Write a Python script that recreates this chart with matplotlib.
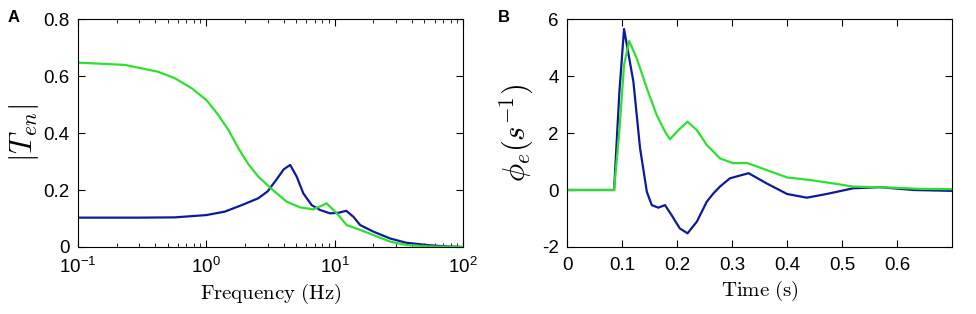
import numpy as np
import matplotlib
matplotlib.use('Agg')
import matplotlib.pyplot as plt

plt.rcParams['font.family'] = ['Liberation Sans', 'DejaVu Sans']
plt.rcParams['mathtext.fontset'] = 'cm'
plt.rcParams['axes.unicode_minus'] = False

# panel A: |T_en| vs frequency
freq_blue = [0.1, 0.3, 0.57, 1.0, 1.39, 1.89, 2.54, 3.0, 3.5, 4.0, 4.5, 5.06, 5.7, 6.62, 7.69,
             9.2, 10.7, 12.3, 14.0, 15.8, 20.0, 27.0, 36.0, 55.0, 75.0, 100.0]
tmag_blue = [0.103, 0.103, 0.104, 0.112, 0.124, 0.147, 0.171, 0.195, 0.235, 0.272, 0.288, 0.247,
             0.188, 0.147, 0.13, 0.118, 0.12, 0.127, 0.106, 0.077, 0.054, 0.03, 0.015, 0.006,
             0.002, 0.0]
freq_green = [0.1, 0.232, 0.42, 0.57, 0.77, 1.0, 1.24, 1.49, 1.78, 2.13, 2.54, 3.29, 4.23, 5.37,
              6.82, 8.67, 10.4, 12.4, 15.8, 20.0, 27.0, 36.0, 55.0, 100.0]
tmag_green = [0.647, 0.639, 0.615, 0.592, 0.557, 0.516, 0.463, 0.41, 0.346, 0.29, 0.247, 0.2,
              0.159, 0.139, 0.132, 0.153, 0.118, 0.077, 0.06, 0.042, 0.019, 0.007, 0.002, 0.0]

# panel B: phi_e vs time
t_blue = [0.0, 0.0855, 0.095, 0.1036, 0.1206, 0.1327, 0.145, 0.154, 0.166, 0.178, 0.19, 0.205,
          0.219, 0.236, 0.254, 0.266, 0.278, 0.296, 0.33, 0.363, 0.40, 0.436, 0.472, 0.52, 0.569,
          0.63, 0.7]
phi_blue = [0.0, 0.0, 3.4, 5.65, 3.8, 1.47, -0.06, -0.53, -0.62, -0.53, -0.88, -1.35, -1.52,
            -1.11, -0.41, -0.12, 0.12, 0.41, 0.59, 0.23, -0.14, -0.27, -0.14, 0.06, 0.1, 0.0,
            -0.03]
t_green = [0.0, 0.0855, 0.095, 0.1036, 0.113, 0.1267, 0.145, 0.163, 0.178, 0.187, 0.2024, 0.219,
           0.236, 0.254, 0.278, 0.302, 0.327, 0.363, 0.40, 0.442, 0.484, 0.52, 0.581, 0.642, 0.7]
phi_green = [0.0, 0.0, 2.05, 4.39, 5.23, 4.62, 3.57, 2.63, 2.05, 1.78, 2.1, 2.40, 2.1, 1.58, 1.11,
             0.94, 0.95, 0.70, 0.44, 0.35, 0.23, 0.12, 0.09, 0.04, 0.03]

blue = '#0d1a9c'
green = '#2ee02e'
lw = 1.6

fig = plt.figure(figsize=(9.76, 3.14), dpi=100)
ax1 = fig.add_axes([0.0799, 0.2134, 0.3945, 0.726])
ax2 = fig.add_axes([0.581, 0.2134, 0.3945, 0.726])

ax1.plot(freq_blue, tmag_blue, color=blue, lw=lw)
ax1.plot(freq_green, tmag_green, color=green, lw=lw)
ax1.set_xscale('log')
ax1.set_xlim(0.1, 100)
ax1.set_ylim(0, 0.8)
ax1.set_yticks([0, 0.2, 0.4, 0.6, 0.8])
ax1.set_yticklabels(['0', '0.2', '0.4', '0.6', '0.8'])
ax1.set_xlabel(r'$\mathrm{Frequency\ (Hz)}$', fontsize=15, labelpad=4)
ax1.set_ylabel(r'$|T_{en}|$', fontsize=22, labelpad=2)

ax2.plot(t_blue, phi_blue, color=blue, lw=lw)
ax2.plot(t_green, phi_green, color=green, lw=lw)
ax2.set_xlim(0, 0.7)
ax2.set_ylim(-2, 6)
ax2.set_xticks([0, 0.1, 0.2, 0.3, 0.4, 0.5, 0.6])
ax2.set_xticklabels(['0', '0.1', '0.2', '0.3', '0.4', '0.5', '0.6'])
ax2.set_yticks([-2, 0, 2, 4, 6])
ax2.set_xlabel(r'$\mathrm{Time\ (s)}$', fontsize=15, labelpad=4)
ax2.set_ylabel(r'$\phi_e(s^{-1})$', fontsize=22, labelpad=4)

for ax in (ax1, ax2):
    ax.tick_params(which='both', direction='in', top=True, right=True, labelsize=13.5)
    ax.tick_params(which='major', length=5)
    ax.tick_params(axis='x', which='major', pad=7)
    ax.tick_params(axis='y', which='major', pad=6)
    ax.tick_params(which='minor', length=3)
    for s in ax.spines.values():
        s.set_linewidth(0.8)

fig.text(0.008, 0.93, 'A', fontsize=12, fontweight='bold')
fig.text(0.51, 0.93, 'B', fontsize=12, fontweight='bold')

fig.savefig('out.png', dpi=100)
